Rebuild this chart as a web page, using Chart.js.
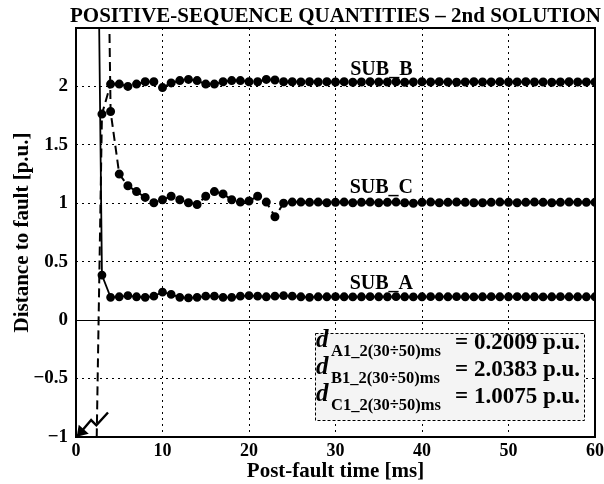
<!DOCTYPE html>
<html>
<head>
  <meta charset="utf-8">
  <title>Positive-sequence quantities</title>
  <script src="https://cdn.jsdelivr.net/npm/chart.js@4.4.1/dist/chart.umd.min.js"></script>
  <style>
    body { margin: 0; background: #fff; }
  </style>
</head>
<body>
  <canvas id="myChart" width="604" height="484"></canvas>

  <script>
    // post-fault time [ms]
    const time = [2, 3, 4, 5, 6, 7, 8, 9, 10, 11, 12, 13, 14, 15, 16, 17, 18, 19, 20,
      21, 22, 23, 24, 25, 26, 27, 28, 29, 30, 31, 32, 33, 34, 35, 36, 37, 38, 39, 40,
      41, 42, 43, 44, 45, 46, 47, 48, 49, 50, 51, 52, 53, 54, 55, 56, 57, 58, 59, 60];

    const subA = [7.0, 0.386, 0.195, 0.20, 0.21, 0.20, 0.195, 0.205, 0.24, 0.22, 0.195, 0.19, 0.195, 0.205, 0.205, 0.195, 0.195, 0.205, 0.21,
      0.205, 0.20, 0.205, 0.21, 0.205, 0.20, 0.195, 0.20, 0.20, 0.201, 0.20, 0.199, 0.20, 0.201, 0.20, 0.20, 0.201, 0.20, 0.199, 0.20,
      0.201, 0.20, 0.20, 0.201, 0.20, 0.199, 0.20, 0.201, 0.20, 0.20, 0.201, 0.20, 0.20, 0.199, 0.20, 0.201, 0.20, 0.20, 0.20, 0.20];

    const subB = [-2.8, 1.763, 2.02, 2.02, 2.00, 2.02, 2.04, 2.04, 1.99, 2.03, 2.05, 2.06, 2.05, 2.02, 2.02, 2.04, 2.05, 2.05, 2.04,
      2.04, 2.06, 2.055, 2.04, 2.04, 2.038, 2.04, 2.038, 2.04, 2.038, 2.04, 2.036, 2.038, 2.04, 2.038, 2.038, 2.04, 2.036, 2.038, 2.04,
      2.038, 2.04, 2.038, 2.036, 2.038, 2.04, 2.038, 2.038, 2.04, 2.038, 2.038, 2.04, 2.038, 2.038, 2.036, 2.038, 2.04, 2.038, 2.038, 2.038];

    const subC = [null, 7.0, 1.785, 1.25, 1.15, 1.10, 1.05, 1.005, 1.03, 1.06, 1.03, 1.005, 0.99, 1.06, 1.10, 1.08, 1.03, 1.01, 1.02,
      1.06, 1.01, 0.885, 1.00, 1.01, 1.01, 1.008, 1.01, 1.005, 1.008, 1.01, 1.005, 1.008, 1.01, 1.005, 1.008, 1.01, 1.005, 1.0, 1.008,
      1.01, 1.005, 1.008, 1.01, 1.008, 1.005, 1.005, 1.008, 1.01, 1.008, 1.005, 1.008, 1.01, 1.008, 1.005, 1.008, 1.01, 1.008, 1.008, 1.008];

    const xTicks = [0, 10, 20, 30, 40, 50, 60];
    const yTicks = [-1, -0.5, 0, 0.5, 1, 1.5, 2];

    const chartTitle = 'POSITIVE-SEQUENCE QUANTITIES \u2013 2nd SOLUTION';

    // series labels placed on the plot (x, y in data units)
    const seriesLabels = [
      { text: 'SUB_B', x: 35.3, y: 2.10 },
      { text: 'SUB_C', x: 35.3, y: 1.09 },
      { text: 'SUB_A', x: 35.3, y: 0.27 }
    ];

    // averaged results shown in the box
    const boxSubs = ['A1_2(30\u00f750)ms', 'B1_2(30\u00f750)ms', 'C1_2(30\u00f750)ms'];
    const boxValues = ['0.2009', '2.0383', '1.0075'];

    // fault symbol (lightning arrow) in data units
    const faultSymbol = [[3.7, -0.79], [2.35, -0.90], [1.75, -0.855], [0.2, -0.99]];

    const serif = '"Liberation Serif", "Times New Roman", serif';

    const toPoints = (vals) => time.map((t, i) => ({ x: t, y: vals[i] }));

    const decorations = {
      id: 'decorations',
      afterDatasetsDraw(chart) {
        const { ctx, chartArea: a, scales: { x, y } } = chart;
        ctx.save();
        // zero line
        ctx.strokeStyle = '#000';
        ctx.lineWidth = 1;
        const y0 = Math.round(y.getPixelForValue(0)) + 0.5;
        ctx.beginPath();
        ctx.moveTo(a.left, y0);
        ctx.lineTo(a.right, y0);
        ctx.stroke();

        // frame
        ctx.lineWidth = 2;
        ctx.strokeRect(a.left, a.top, a.right - a.left, a.bottom - a.top);

        // title, centred over the plot area
        ctx.fillStyle = '#000';
        ctx.font = 'bold 21px ' + serif;
        ctx.textAlign = 'center';
        ctx.textBaseline = 'alphabetic';
        ctx.fillText(chartTitle, (a.left + a.right) / 2, a.top - 6);

        // series names
        ctx.font = 'bold 20px ' + serif;
        seriesLabels.forEach(l => {
          ctx.fillText(l.text, x.getPixelForValue(l.x), y.getPixelForValue(l.y));
        });

        // results box
        const bx = 315, by = 333, bw = 269, bh = 87;
        ctx.fillStyle = '#f4f4f4';
        ctx.fillRect(bx, by, bw, bh);
        ctx.setLineDash([3, 2]);
        ctx.lineWidth = 1;
        ctx.strokeStyle = '#000';
        ctx.strokeRect(bx + 0.5, by + 0.5, bw, bh);
        ctx.setLineDash([]);
        ctx.fillStyle = '#000';
        ctx.textAlign = 'left';
        for (let i = 0; i < 3; i++) {
          const base = by + 14 + i * 27;
          ctx.font = 'italic bold 25px ' + serif;
          ctx.fillText('d', bx + 1, base);
          ctx.font = 'bold 16.5px ' + serif;
          ctx.fillText(boxSubs[i], bx + 16, base + 9);
          ctx.font = 'bold 23px ' + serif;
          ctx.textAlign = 'right';
          ctx.fillText('= ' + boxValues[i] + ' p.u.', bx + bw - 4, base + 2);
          ctx.textAlign = 'left';
        }

        // fault symbol
        ctx.lineWidth = 2.4;
        ctx.beginPath();
        faultSymbol.forEach((p, i) => {
          const px = x.getPixelForValue(p[0]), py = y.getPixelForValue(p[1]);
          if (i === 0) ctx.moveTo(px, py); else ctx.lineTo(px, py);
        });
        ctx.stroke();
        const tip = faultSymbol[faultSymbol.length - 1];
        const tx = x.getPixelForValue(tip[0]), ty = y.getPixelForValue(tip[1]);
        ctx.beginPath();
        ctx.moveTo(tx - 1, ty + 1);
        ctx.lineTo(tx + 1, ty - 11);
        ctx.lineTo(tx + 11, ty - 2);
        ctx.closePath();
        ctx.fill();
        ctx.restore();
      }
    };

    const ctx = document.getElementById('myChart').getContext('2d');
    const myChart = new Chart(ctx, {
      type: 'line',
      data: {
        datasets: [
          {
            label: 'SUB_A',
            data: toPoints(subA),
            borderColor: '#000',
            backgroundColor: '#000',
            borderWidth: 1.8,
            pointRadius: 3.5,
            pointHoverRadius: 3.5,
            tension: 0
          },
          {
            label: 'SUB_B',
            data: toPoints(subB),
            borderColor: '#000',
            backgroundColor: '#000',
            borderWidth: 2,
            borderDash: [9, 5],
            pointRadius: 3.5,
            pointHoverRadius: 3.5,
            tension: 0
          },
          {
            label: 'SUB_C',
            data: toPoints(subC),
            borderColor: '#000',
            backgroundColor: '#000',
            borderWidth: 2,
            borderDash: [9, 5],
            pointRadius: 3.5,
            pointHoverRadius: 3.5,
            spanGaps: false,
            tension: 0
          }
        ]
      },
      options: {
        responsive: false,
        animation: false,
        layout: { padding: { left: 10, right: 0, top: 28, bottom: 0 } },
        scales: {
          x: {
            type: 'linear',
            min: 0,
            max: 60,
            afterBuildTicks: (s) => { s.ticks = xTicks.map(v => ({ value: v })); },
            afterFit: (s) => { s.height = 47; s.paddingLeft = 0; s.paddingRight = 9; },
            grid: { color: (c) => (c.tick && (c.tick.value === 0 || c.tick.value === 60)) ? 'rgba(0,0,0,0)' : '#000', lineWidth: 1, drawTicks: false },
            border: { display: false, dash: [2, 4] },
            ticks: { color: '#000', padding: 4, maxRotation: 0, font: { family: serif, size: 18, weight: 'bold' } },
            title: {
              display: true,
              text: 'Post-fault time [ms]',
              color: '#000',
              padding: { top: -10, bottom: 0 },
              font: { family: serif, size: 21, weight: 'bold' }
            }
          },
          y: {
            min: -1,
            max: 2.5,
            afterBuildTicks: (s) => { s.ticks = yTicks.map(v => ({ value: v })); },
            afterFit: (s) => { s.width = 66; },
            grid: { color: (c) => (c.tick && c.tick.value === -1) ? 'rgba(0,0,0,0)' : '#000', lineWidth: 1, drawTicks: false },
            border: { display: false, dash: [2, 4] },
            ticks: {
              color: '#000',
              padding: 8,
              font: { family: serif, size: 19, weight: 'bold' },
              callback: (v) => String(v).replace('-', '\u2212')
            },
            title: {
              display: true,
              text: 'Distance to fault [p.u.]',
              color: '#000',
              padding: { top: 0, bottom: 2 },
              font: { family: serif, size: 21, weight: 'bold' }
            }
          }
        },
        plugins: {
          legend: { display: false },
          tooltip: { enabled: false },
          title: { display: false }
        }
      },
      plugins: [decorations]
    });
  </script>
</body>
</html>
